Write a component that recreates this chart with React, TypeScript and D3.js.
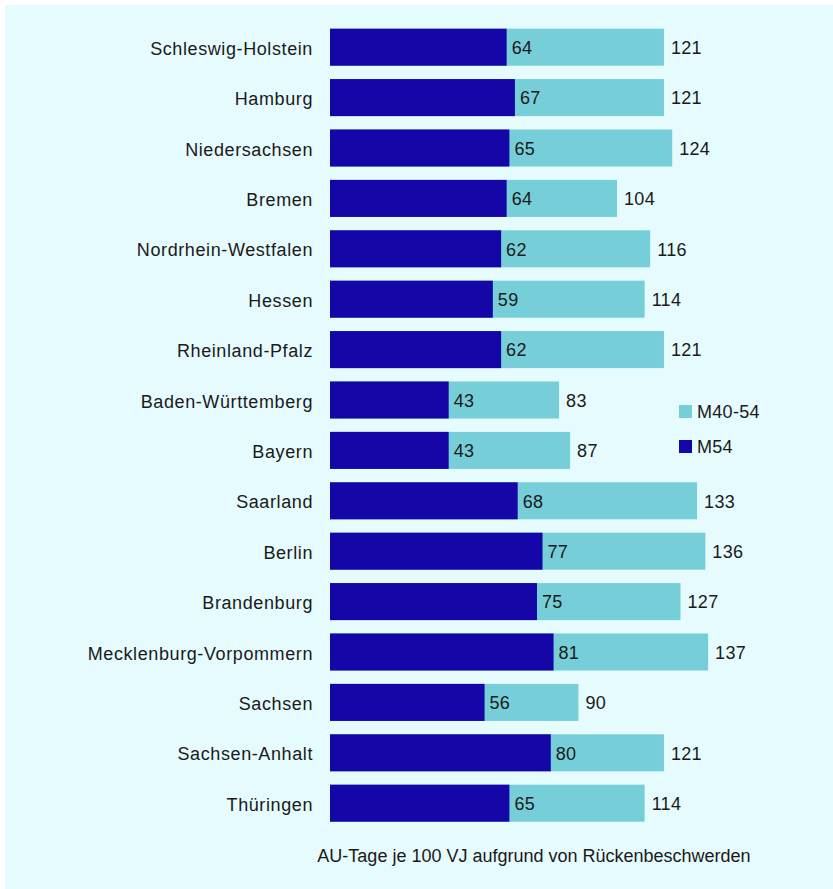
import * as d3 from "d3";

const states = [
  "Schleswig-Holstein",
  "Hamburg",
  "Niedersachsen",
  "Bremen",
  "Nordrhein-Westfalen",
  "Hessen",
  "Rheinland-Pfalz",
  "Baden-Württemberg",
  "Bayern",
  "Saarland",
  "Berlin",
  "Brandenburg",
  "Mecklenburg-Vorpommern",
  "Sachsen",
  "Sachsen-Anhalt",
  "Thüringen",
];
const m54 = [64, 67, 65, 64, 62, 59, 62, 43, 43, 68, 77, 75, 81, 56, 80, 65];
const m4054 = [121, 121, 124, 104, 116, 114, 121, 83, 87, 133, 136, 127, 137, 90, 121, 114];
const legendItems = [
  { label: "M40-54", color: "#76CFD8" },
  { label: "M54", color: "#1506A8" },
];
const axisTitle = "AU-Tage je 100 VJ aufgrund von Rückenbeschwerden";

const W = 833;
const H = 889;
const DARK = "#1506A8";
const LIGHT = "#76CFD8";
const BG = "#E6FBFE";
const TEXT = "#1a1a1a";
const FONT = "'Liberation Sans', Arial, sans-serif";
const FS = 18;

export default function App() {
  const x = d3.scaleLinear().domain([0, 100]).range([330, 330 + 276]);
  const y = d3
    .scaleBand<string>()
    .domain(states)
    .range([22, 22 + 50.4 * states.length])
    .paddingInner(0.265)
    .paddingOuter(0.1325);
  const bh = y.bandwidth();

  return (
    <svg
      width={W}
      height={H}
      style={{ position: "absolute", left: 0, top: 0, display: "block" }}
      fontFamily={FONT}
      fontSize={FS}
    >
      <rect x={0} y={0} width={W} height={H} fill="#ffffff" />
      <rect x={5} y={5} width={W - 5} height={H - 5} fill={BG} />

      {states.map((s, i) => {
        const y0 = y(s) ?? 0;
        const cy = y0 + bh / 2;
        return (
          <g key={s}>
            <text x={313} y={cy + 7.5} textAnchor="end" letterSpacing={0.6} fill={TEXT}>
              {s}
            </text>
            {/* total bar behind, M54 on top */}
            <rect x={x(0)} y={y0} width={x(m4054[i]) - x(0)} height={bh} fill={LIGHT} />
            <rect x={x(0)} y={y0} width={x(m54[i]) - x(0)} height={bh} fill={DARK} />
            <text x={x(m54[i]) + 5} y={cy + 6.8} letterSpacing={0.3} fill={TEXT}>
              {m54[i]}
            </text>
            <text x={x(m4054[i]) + 7} y={cy + 6.8} letterSpacing={0.3} fill={TEXT}>
              {m4054[i]}
            </text>
          </g>
        );
      })}

      {/* legend */}
      {legendItems.map((d, i) => (
        <g key={d.label} transform={`translate(679,${405 + i * 35})`}>
          <rect width={13} height={13} fill={d.color} />
          <text x={18} y={13} letterSpacing={0.3} fill={TEXT}>
            {d.label}
          </text>
        </g>
      ))}

      <text x={534} y={862} textAnchor="middle" fill={TEXT}>
        {axisTitle}
      </text>
    </svg>
  );
}
